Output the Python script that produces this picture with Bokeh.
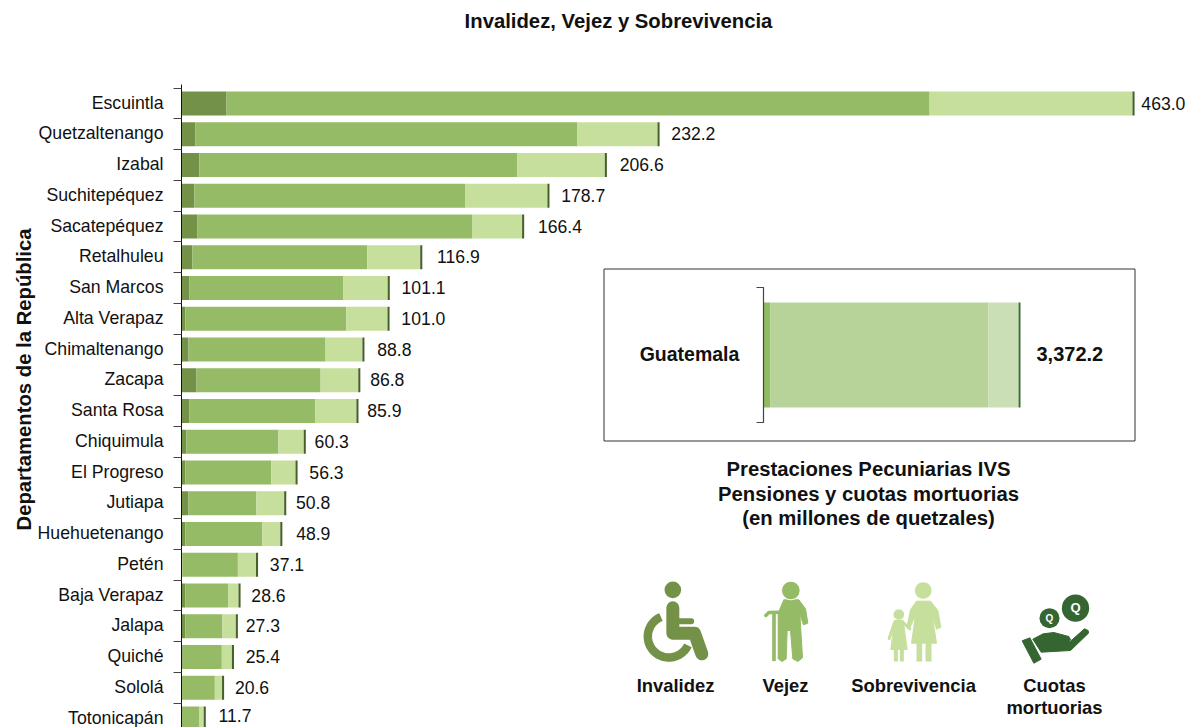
import numpy as np
from bokeh.plotting import figure
from bokeh.models import Range1d, FixedTicker, Title
from bokeh.core.properties import value
from bokeh.embed import file_html
from bokeh.resources import INLINE

departamentos = ["Escuintla", "Quetzaltenango", "Izabal", "Suchitepéquez", "Sacatepéquez", "Retalhuleu",
                 "San Marcos", "Alta Verapaz", "Chimaltenango", "Zacapa", "Santa Rosa", "Chiquimula",
                 "El Progreso", "Jutiapa", "Huehuetenango", "Petén", "Baja Verapaz", "Jalapa", "Quiché",
                 "Sololá", "Totonicapán"]
invalidez = [21.9, 6.8, 8.7, 6.3, 7.8, 5.3, 3.9, 1.9, 3.4, 7.3, 3.9, 2.4, 1.9, 3.4, 1.9, 0.4, 1.9, 1.9, 0.6, 0.2, 0.2]
vejez = [341.6, 185.6, 154.5, 131.7, 133.6, 85.0, 74.8, 78.2, 66.6, 60.3, 61.2, 44.7, 41.8, 33.0, 37.4, 27.0, 20.9, 18.0, 19.0, 16.0, 8.3]
sobrevivencia = [98.6, 38.9, 42.5, 39.8, 24.1, 25.7, 21.5, 20.0, 17.9, 18.3, 19.9, 12.3, 11.7, 13.5, 8.7, 8.8, 4.9, 6.5, 4.9, 3.5, 2.3]
cuotas = [1.0] * 21
totales = [463.0, 232.2, 206.6, 178.7, 166.4, 116.9, 101.1, 101.0, 88.8, 86.8, 85.9, 60.3, 56.3, 50.8, 48.9, 37.1, 28.6, 27.3, 25.4, 20.6, 11.7]
label_gap = [7, 12, 13, 12, 14, 15, 12, 12, 13, 10, 9, 9, 12, 10, 14, 12, 11, 8, 12, 11, 13]
label_lift = [0.5] * 20 + [3]

guatemala = [92, 2861, 394, 25]
guatemala_total = 3372.2

COLORS = ["#739247", "#95bb67", "#c6df9c", "#46602a"]
COLORS_G = ["#8fbb63", "#b8d399", "#cbdfb6", "#386b30"]
ICON = ["#739247", "#95bb67", "#c6df9c", "#356631"]
FONT = value("Liberation Sans")

# page geometry of the frame
L, R, T, B = 181, 1192, 0, 727
PX_PER_UNIT = 2.058
PITCH = 30.75
ROW0 = 103
BAR_H = 24

p = figure(width=1192, height=727, output_backend="svg", toolbar_location=None,
           x_range=Range1d(0, (R - L) / PX_PER_UNIT),
           y_range=Range1d((B - ROW0) / PITCH, (T - ROW0) / PITCH),
           x_axis_location=None, y_axis_location="left",
           min_border_left=L, min_border_right=0, min_border_top=0, min_border_bottom=0)
p.grid.visible = False
p.outline_line_color = None
p.background_fill_color = "white"

G_SCALE = 257 / guatemala_total
p.extra_x_ranges = {"px": Range1d(L, R),
                    "inset": Range1d((L - 763) / G_SCALE, (R - 763) / G_SCALE)}
p.extra_y_ranges = {"px": Range1d(B, T)}

rows = list(range(len(departamentos)))
left = np.zeros(len(rows))
for vals, col in zip([invalidez, vejez, sobrevivencia, cuotas], COLORS):
    right = left + np.array(vals)
    p.hbar(y=rows, left=left, right=right, height=BAR_H / PITCH, fill_color=col, line_color=None)
    left = right

for r, t, g, lift in zip(rows, totales, label_gap, label_lift):
    p.text(x=[t], y=[r], text=[f"{t:.1f}"], x_offset=g, y_offset=-lift, text_baseline="middle", text_align="left",
           text_font=FONT, text_font_size="17.6px", text_color="#111111")

ax = p.yaxis[0]
label_ticks = [round(r - 0.03, 2) for r in rows]
ax.ticker = FixedTicker(ticks=label_ticks, minor_ticks=[r - 0.5 for r in rows] + [len(rows) - 0.5])
ax.major_label_overrides = {t: d for t, d in zip(label_ticks, departamentos)}
ax.major_tick_out = 0
ax.major_tick_in = 0
ax.minor_tick_out = 8
ax.minor_tick_in = 0
ax.minor_tick_line_color = "#444444"
ax.axis_line_color = "#111111"
ax.bounds = ((84 - ROW0) / PITCH, (B - ROW0) / PITCH)
ax.major_label_standoff = 10
ax.major_label_text_font = "Liberation Sans"
ax.major_label_text_font_size = "17.7px"
ax.major_label_text_color = "#111111"

PXR = dict(x_range_name="px", y_range_name="px")

p.add_layout(Title(text="Departamentos de la República", align="left", offset=197, standoff=0,
                   text_font="Liberation Sans", text_font_style="bold", text_font_size="20.3px",
                   text_color="#111111"), "left")


def ptext(x, y, s, size="20.3px", style="bold", align="center", color="#111111"):
    p.text(x=[x], y=[y - 1], text=[s], text_align=align, text_baseline="middle", text_font=FONT,
           text_font_size=size, text_font_style=style, text_color=color, **PXR)


ptext(618, 21, "Invalidez, Vejez y Sobrevivencia")

# inset
p.quad(left=[603.5], right=[1134.5], top=[268.5], bottom=[440.5], fill_color="white",
       line_color="#333333", line_width=1, **PXR)
g_left = 0
for v, col in zip(guatemala, COLORS_G):
    p.hbar(y=[354.5], left=[g_left], right=[g_left + v], height=105, fill_color=col, line_color=None,
           x_range_name="inset", y_range_name="px")
    g_left += v
p.line(x=[756, 763, 763, 756], y=[287, 287, 422, 422], line_color="#444444", line_width=1.2, **PXR)
ptext(689, 354, "Guatemala", "19.5px")
ptext(1036, 354, f"{guatemala_total:,.1f}", "20px", align="left")
ptext(868, 469, "Prestaciones Pecuniarias IVS")
ptext(868, 494, "Pensiones y cuotas mortuorias")
ptext(868, 518, "(en millones de quetzales)")

# icon legend
for x, y, s in [(675, 686, "Invalidez"), (785, 686, "Vejez"), (913, 686, "Sobrevivencia"),
                (1054, 686, "Cuotas"), (1054, 708, "mortuorias")]:
    ptext(x, y, s, "18.4px")


def zx(v):
    return [620 + a / 3 for a in v]


def zy(v):
    return [570 + a / 3 for a in v]


def circle(x, y, r, col, line=None):
    p.circle(x=[620 + x / 3], y=[570 + y / 3], radius=r / 3, fill_color=col, line_color=line, **PXR)


def poly(pts, col):
    xs, ys = zip(*pts)
    p.patch(x=zx(xs), y=zy(ys), fill_color=col, line_color=col, line_width=1, line_join="round", **PXR)


def stroke(pts, col, w, cap="round"):
    xs, ys = zip(*pts)
    p.line(x=zx(xs), y=zy(ys), line_color=col, line_width=w, line_cap=cap, line_join="round", **PXR)


# wheelchair
c = ICON[0]
circle(157, 58, 25, c)
stroke([(157, 112), (157, 188), (222, 188), (244, 250)], c, 13)
stroke([(157, 152), (212, 152)], c, 6)
t = np.radians(np.linspace(112, 335, 60))
arc = [(145 + 63 * np.cos(a), 198 - 63 * np.sin(a)) for a in t]
stroke(arc, c, 8.5, "butt")

# elder
c = ICON[1]
poly([(490, 88), (535, 88), (555, 115), (562, 158), (549, 163), (538, 130), (546, 262), (532, 273),
      (517, 265), (510, 180), (500, 180), (497, 265), (485, 273), (473, 265), (473, 128), (490, 88)], c)
circle(511, 60, 28, c, "white")
stroke([(436, 135), (445, 126), (478, 125)], c, 3.5)
p.quad(left=[620 + 455 / 3], right=[620 + 466 / 3], top=[570 + 125 / 3], bottom=[570 + 272 / 3],
       fill_color=c, line_color=None, **PXR)

# survivors
c = ICON[2]
circle(908, 60, 25, c)
poly([(888, 92), (930, 92), (952, 120), (961, 170), (948, 176), (935, 135), (948, 218), (873, 218),
      (885, 135), (868, 172), (860, 165), (870, 118)], c)
for a, b in [(888, 905), (915, 933)]:
    p.quad(left=[620 + a / 3], right=[620 + b / 3], top=[570 + 218 / 3], bottom=[570 + 273 / 3],
           fill_color=c, line_color=None, **PXR)
circle(835, 132, 16, c)
poly([(822, 150), (848, 150), (860, 237), (811, 237)], c)
for a, b in [(820, 832), (838, 850)]:
    p.quad(left=[620 + a / 3], right=[620 + b / 3], top=[570 + 237 / 3], bottom=[570 + 273 / 3],
           fill_color=c, line_color=None, **PXR)
stroke([(822, 156), (806, 204)], c, 3)
stroke([(848, 156), (868, 175)], c, 3)

# hand with coins
c = ICON[3]
circle(1287, 143, 30, c)
circle(1365, 113, 41, c)
ptext(620 + 1287 / 3, 571 + 143 / 3, "Q", "10px", color="white")
ptext(620 + 1365 / 3, 571 + 112 / 3, "Q", "13px", color="white")
poly([(1205, 211), (1228, 202), (1262, 266), (1240, 278)], c)
poly([(1237, 206), (1268, 190), (1300, 186), (1345, 198), (1350, 208), (1345, 213), (1312, 214), (1350, 212),
      (1392, 175), (1403, 180), (1404, 188), (1350, 240), (1262, 245)], c)

open("out.html", "w").write(file_html(p, INLINE))
